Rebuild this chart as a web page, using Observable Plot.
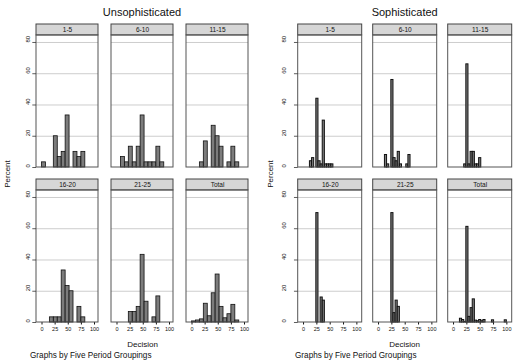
<!DOCTYPE html>
<html>
<head>
<meta charset="utf-8">
<script src="https://cdn.jsdelivr.net/npm/d3@7"></script>
<script src="https://cdn.jsdelivr.net/npm/@observablehq/plot@0.6"></script>
<style>
  body { margin: 0; background: #fff; }
  #wrap { position: relative; width: 513px; height: 361px; overflow: hidden; font-family: "Liberation Sans", Arial, sans-serif; color: #111; }
  #wrap svg { position: absolute; top: 0; }
  .lbl { position: absolute; white-space: nowrap; line-height: 1; }
</style>
</head>
<body>
<div id="wrap"></div>
<script>
// ---------- data ----------
const panelLabels = ["1-5", "6-10", "11-15", "16-20", "21-25", "Total"];
const groupTitles = ["Unsophisticated", "Sophisticated"];
const xTicks = [0, 25, 50, 75, 100];
const yTicks = [0, 20, 40, 60, 80];
const gridValues = [20, 40, 60, 80];
const xTitle = "Decision";
const yTitle = "Percent";
const note = "Graphs by Five Period Groupings";

// Unsophisticated: bins of width 7.5 starting at 0
const unsophBinWidth = 7.5;
const unsophBinStarts = [0, 7.5, 15, 22.5, 30, 37.5, 45, 52.5, 60, 67.5, 75, 82.5];
const unsoph_1_5   = [3.3, 0, 0, 20, 6.7, 10, 33.3, 0, 10, 6.7, 10, 0];
const unsoph_6_10  = [0, 6.7, 3.3, 13.3, 3.3, 13.3, 33.3, 3.3, 3.3, 3.3, 13.3, 3.3];
const unsoph_11_15 = [0, 0, 3.3, 16.7, 0, 26.7, 20, 13.3, 0, 3.3, 13.3, 3.3];
const unsoph_16_20 = [0, 0, 3.3, 3.3, 3.3, 33.3, 23.3, 20, 0, 10, 3.3, 0];
const unsoph_21_25 = [0, 0, 0, 6.7, 6.7, 10, 43.3, 13.3, 0, 3.3, 16.7, 0];
const unsoph_total = [0.7, 1.3, 2, 12, 4, 18.7, 30.7, 10, 2.7, 5.3, 11.3, 1.3];

// Sophisticated: bins of width 4 (bin starts listed with their percent)
const sophBinWidth = 4;
const soph_1_5_x   = [12, 16, 24, 28, 32, 36, 40, 44, 48, 52];
const soph_1_5_y   = [4, 6, 44, 4, 2, 30, 2, 2, 2, 2];
const soph_6_10_x  = [12, 16, 24, 28, 32, 36, 40, 52, 56];
const soph_6_10_y  = [8, 2, 56, 6, 4, 10, 2, 2, 8];
const soph_11_15_x = [20, 24, 28, 32, 36, 40, 44, 48];
const soph_11_15_y = [2, 66, 2, 10, 10, 2, 2, 6];
const soph_16_20_x = [24, 32, 36];
const soph_16_20_y = [70, 16, 14];
const soph_21_25_x = [24, 28, 32, 36];
const soph_21_25_y = [70, 6, 14, 10];
const soph_total_x = [12, 16, 20, 24, 28, 32, 36, 40, 44, 48, 52, 56, 72, 96];
const soph_total_y = [2.4, 1.6, 0.4, 61.2, 3.6, 9.2, 14.8, 1.2, 0.8, 1.6, 0.8, 1.6, 1.4, 1.4];

// ---------- build tables ----------
function unsophBars() {
  const series = [unsoph_1_5, unsoph_6_10, unsoph_11_15, unsoph_16_20, unsoph_21_25, unsoph_total];
  const out = [];
  series.forEach((vals, p) => vals.forEach((v, i) => {
    if (v > 0) out.push({col: p % 3, row: Math.floor(p / 3), x1: unsophBinStarts[i], x2: unsophBinStarts[i] + unsophBinWidth, y: v});
  }));
  return out;
}
function sophBars() {
  const xs = [soph_1_5_x, soph_6_10_x, soph_11_15_x, soph_16_20_x, soph_21_25_x, soph_total_x];
  const ys = [soph_1_5_y, soph_6_10_y, soph_11_15_y, soph_16_20_y, soph_21_25_y, soph_total_y];
  const out = [];
  xs.forEach((arr, p) => arr.forEach((x, i) => {
    out.push({col: p % 3, row: Math.floor(p / 3), x1: x, x2: x + sophBinWidth, y: ys[p][i]});
  }));
  return out;
}
const headers = panelLabels.map((label, p) => ({col: p % 3, row: Math.floor(p / 3), label}));
const yTickRows = [0, 1].flatMap(row => yTicks.map(v => ({col: 0, row, v})));

const Y_TOP = 84.5, Y_MAX = 91.5;

function group({width, marginLeft, marginRight, pad, xDomain, bars, tickDx, tickLen, barStroke}) {
  const [x0, x1] = xDomain;
  return Plot.plot({
    width, height: 361,
    marginTop: 24, marginBottom: 39, marginLeft, marginRight,
    style: {fontFamily: "'Liberation Sans', Arial, sans-serif", fontSize: "5.5px", color: "#111", background: "transparent", overflow: "visible"},
    fx: {domain: [0, 1, 2], axis: null, paddingInner: pad, paddingOuter: 0, round: false},
    fy: {domain: [0, 1], axis: null, paddingInner: 12 / 155, paddingOuter: 0, round: false},
    x: {domain: xDomain, ticks: xTicks, tickSize: 2.5, tickPadding: 2, label: null},
    y: {domain: [0, Y_MAX], axis: null},
    marks: [
      Plot.rect(headers, {fx: "col", fy: "row", x1: () => x0, x2: () => x1, y1: () => Y_TOP, y2: () => Y_MAX, fill: "#d6d6d6", stroke: "#444", strokeWidth: 1}),
      Plot.ruleY(gridValues, {stroke: "#cdcdcd", strokeWidth: 1}),
      Plot.rectY(bars, {fx: "col", fy: "row", x1: "x1", x2: "x2", y: "y", fill: "#7c7c7c", stroke: "#111", strokeWidth: barStroke}),
      Plot.rect(headers, {fx: "col", fy: "row", x1: () => x0, x2: () => x1, y1: () => 0, y2: () => Y_TOP, fill: "none", stroke: "#555", strokeWidth: 1}),
      Plot.text(headers, {fx: "col", fy: "row", x: () => (x0 + x1) / 2, y: () => (Y_TOP + Y_MAX) / 2, text: "label", fontSize: 6.5}),
      Plot.ruleY(yTickRows, {fx: "col", fy: "row", y: "v", x1: () => x0 - tickLen, x2: () => x0, stroke: "#333", strokeWidth: 0.8}),
      Plot.text(yTickRows, {fx: "col", fy: "row", y: "v", frameAnchor: "left", text: d => String(d.v), rotate: -90, dx: tickDx, fontSize: 6})
    ]
  });
}

const wrap = document.getElementById("wrap");
const left = group({width: 256, marginLeft: 36, marginRight: 8, pad: 13 / 75, xDomain: [-10.5, 107.6], bars: unsophBars(), tickDx: -8, tickLen: 7, barStroke: 0.8});
left.style.left = "0px";
wrap.appendChild(left);
const right = group({width: 257, marginLeft: 41.7, marginRight: 1.3, pad: 11 / 75, xDomain: [-10, 110], bars: sophBars(), tickDx: -13.7, tickLen: 7, barStroke: 1});
right.style.left = "256px";
wrap.appendChild(right);

function label(text, x, y, size, opts = {}) {
  const d = document.createElement("div");
  d.className = "lbl";
  d.textContent = text;
  d.style.left = x + "px";
  d.style.top = y + "px";
  d.style.fontSize = size + "px";
  d.style.transform = opts.transform || "translate(-50%, -50%)";
  wrap.appendChild(d);
}
label(groupTitles[0], 142, 12, 11);
label(groupTitles[1], 404.7, 12, 11);
label(xTitle, 142.5, 345, 8);
label(xTitle, 404.5, 345, 8);
label(note, 30, 355.5, 8.2, {transform: "translate(0, -50%)"});
label(note, 295, 355.5, 8.2, {transform: "translate(0, -50%)"});
label(yTitle, 8, 174, 8, {transform: "translate(-50%, -50%) rotate(-90deg)"});
label(yTitle, 271, 174, 8, {transform: "translate(-50%, -50%) rotate(-90deg)"});
</script>
</body>
</html>
